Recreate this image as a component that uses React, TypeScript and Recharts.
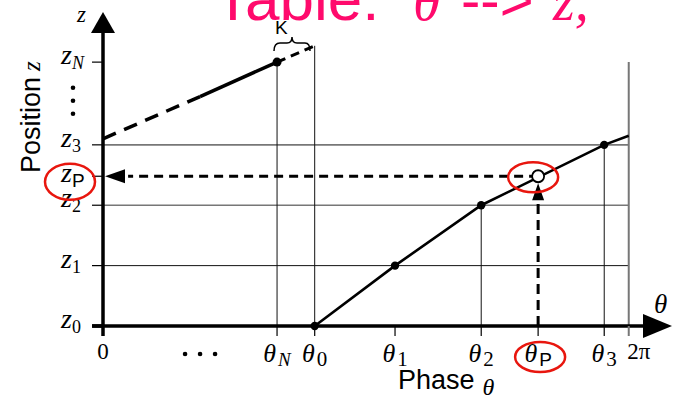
import React from 'react';
import { LineChart, Line, XAxis, YAxis, ReferenceLine, ReferenceDot } from 'recharts';

const SERIF = '"Liberation Serif", "Times New Roman", serif';
const SANS = '"Liberation Sans", Arial, sans-serif';
const MAGENTA = '#ff0a6c';
const RED = '#e8160e';

// phase values (radians) where the table has entries
const TWO_PI = 6.283;
const THETA_N = 2.08;
const THETA_0 = 2.53;
const THETA_1 = 3.49;
const THETA_2 = 4.52;
const THETA_P = 5.2;
const THETA_3 = 5.99;
const THETA_DOTS = 1.16;

// positions
const Z_P = 2.48;
const Z_N = 4.37;
const Z_DOTS = 3.73;

const X_MAX = 6.8;
const Y_MAX = 5.2;

// current period of the table: θ0..θ3 and on to 2π
const tableCurve = [
  { t: THETA_0, z: 0 },
  { t: THETA_1, z: 1 },
  { t: THETA_2, z: 2 },
  { t: THETA_3, z: 3 },
  { t: TWO_PI, z: 3.15 },
];
// previous period coming back in from phase 0
const wrapDashed = [
  { t: 0, z: 3.1 },
  { t: 1.16, z: 3.8 },
];
const wrapSolid = [
  { t: 1.16, z: 3.8 },
  { t: THETA_N, z: Z_N },
];
// the gap K between θN and θ0
const gapK = [
  { t: THETA_N, z: Z_N },
  { t: THETA_0, z: 4.64 },
];

const thetaTicks = [0, THETA_DOTS, THETA_N, THETA_0, THETA_1, THETA_2, THETA_P, THETA_3, TWO_PI];
const thetaLabelMain = ['0', '', 'θ', 'θ', 'θ', 'θ', 'θ', 'θ', '2π'];
const thetaLabelSub = ['', '', 'N', '0', '1', '2', 'P', '3', ''];

const zTicks = [0, 1, 2, Z_P, 3, Z_DOTS, Z_N];
const zLabelMain = ['z', 'z', 'z', 'z', 'z', '', 'z'];
const zLabelSub = ['0', '1', '2', 'P', '3', '', 'N'];

const subStyle = (sub: string, size: number) =>
  sub === 'P'
    ? { fontFamily: SANS, fontStyle: 'normal' as const, fontSize: size - 2 }
    : sub === 'N'
    ? { fontFamily: SERIF, fontStyle: 'italic' as const, fontSize: size - 2 }
    : { fontFamily: SERIF, fontStyle: 'normal' as const, fontSize: size };

function PhaseTick(props: any) {
  const { x, y, payload } = props;
  const i = thetaTicks.indexOf(payload.value);
  if (i < 0) return <g />;
  const main = thetaLabelMain[i];
  const sub = thetaLabelSub[i];
  if (i === 1) {
    return (
      <g>
        {[-15, 0, 15].map((d) => (
          <circle key={d} cx={x + d} cy={y + 28} r={2.3} fill="#000" />
        ))}
      </g>
    );
  }
  const plain = sub === '';
  return (
    <g>
      <line x1={x} x2={x} y1={y} y2={y + 10} stroke={i === 8 ? '#777' : '#000'} strokeWidth={i === 8 ? 2 : 1.2} />
      {sub === 'P' && (
        <ellipse cx={x + 2} cy={y + 31} rx={25} ry={15} fill="none" stroke={RED} strokeWidth={2.5} />
      )}
      <text
        x={i === 8 ? x + 10 : x}
        y={plain ? y + 33 : y + 36}
        textAnchor="middle"
        fontFamily={SERIF}
        fontStyle={plain ? 'normal' : 'italic'}
        fontSize={plain ? 23 : 26}
        fill="#000"
      >
        {main}
        {!plain && (
          <tspan dx={2} dy={4} {...subStyle(sub, 21)}>
            {sub}
          </tspan>
        )}
      </text>
    </g>
  );
}

function PositionTick(props: any) {
  const { x, y, payload } = props;
  const i = zTicks.indexOf(payload.value);
  if (i < 0) return <g />;
  if (i === 5) {
    return (
      <g>
        {[-13, 0, 13].map((d) => (
          <circle key={d} cx={x - 30} cy={y + d} r={2.3} fill="#000" />
        ))}
      </g>
    );
  }
  const sub = zLabelSub[i];
  const isP = sub === 'P';
  return (
    <g>
      <line x1={x - 11} x2={x} y1={y} y2={y} stroke="#000" strokeWidth={i === 0 ? 3.5 : 1.2} />
      {isP && <ellipse cx={x - 33} cy={y + 5.5} rx={25} ry={18} fill="none" stroke={RED} strokeWidth={2.5} />}
      <text x={x - 42} y={isP ? y + 6 : y + 2} fontFamily={SERIF} fontStyle="italic" fontSize={28} fill="#000">
        {zLabelMain[i]}
        <tspan dx={0} dy={5} {...subStyle(sub, 18)} fontSize={isP ? 19 : 18}>
          {sub}
        </tspan>
      </text>
    </g>
  );
}

const tableDot = (props: any) => {
  const { cx, cy, index } = props;
  if (index === tableCurve.length - 1) return <g key={`d${index}`} />;
  return <circle key={`d${index}`} cx={cx} cy={cy} r={4.2} fill="#000" />;
};

const endDot = (props: any) => {
  const { cx, cy, index } = props;
  if (index !== 1) return <g key={`e${index}`} />;
  return <circle key={`e${index}`} cx={cx} cy={cy} r={4.5} fill="#000" />;
};

export default function App() {
  return (
    <div style={{ position: 'absolute', left: 0, top: 0, width: 673, height: 397, background: '#fff' }}>
      <LineChart width={673} height={397} margin={{ top: 12, right: 1, bottom: 0, left: 0 }}>
        <XAxis
          type="number"
          dataKey="t"
          domain={[0, X_MAX]}
          ticks={thetaTicks}
          interval={0}
          height={71}
          axisLine={false}
          tickLine={false}
          tickSize={0}
          tickMargin={0}
          tick={<PhaseTick />}
        />
        <YAxis
          type="number"
          dataKey="z"
          domain={[0, Y_MAX]}
          ticks={zTicks}
          interval={0}
          width={103}
          axisLine={false}
          tickLine={false}
          tickSize={0}
          tickMargin={0}
          tick={<PositionTick />}
        />

        {/* table grid */}
        {[1, 2, 3].map((z) => (
          <ReferenceLine
            key={`h${z}`}
            segment={[{ x: 0, y: z }, { x: TWO_PI, y: z }]}
            stroke={z === 1 ? '#111' : '#777'}
            strokeWidth={z === 1 ? 1 : 1.6}
            ifOverflow="visible"
          />
        ))}
        <ReferenceLine segment={[{ x: THETA_N, y: 0 }, { x: THETA_N, y: Z_N }]} stroke="#111" strokeWidth={1} />
        <ReferenceLine segment={[{ x: THETA_0, y: 0 }, { x: THETA_0, y: 4.64 }]} stroke="#111" strokeWidth={1} />
        <ReferenceLine segment={[{ x: THETA_2, y: 0 }, { x: THETA_2, y: 2 }]} stroke="#111" strokeWidth={1} />
        <ReferenceLine segment={[{ x: THETA_3, y: 0 }, { x: THETA_3, y: 3 }]} stroke="#111" strokeWidth={1} />
        <ReferenceLine segment={[{ x: TWO_PI, y: 0 }, { x: TWO_PI, y: Z_N }]} stroke="#777" strokeWidth={2} />

        {/* axes */}
        <ReferenceLine segment={[{ x: -0.13, y: 0 }, { x: X_MAX - 0.3, y: 0 }]} stroke="#000" strokeWidth={3.5} ifOverflow="visible" />
        <ReferenceLine segment={[{ x: 0, y: -0.165 }, { x: 0, y: Y_MAX - 0.3 }]} stroke="#000" strokeWidth={3.5} ifOverflow="visible" />

        {/* lookup θP -> zP */}
        <ReferenceLine segment={[{ x: THETA_P, y: 0 }, { x: THETA_P, y: Z_P - 0.3 }]} stroke="#000" strokeWidth={3} strokeDasharray="10 6" />
        <ReferenceLine segment={[{ x: THETA_P, y: Z_P }, { x: 0.3, y: Z_P }]} stroke="#000" strokeWidth={3} strokeDasharray="9 6" />

        <Line data={wrapDashed} dataKey="z" stroke="#000" strokeWidth={3.5} strokeDasharray="14 9" dot={false} isAnimationActive={false} />
        <Line data={wrapSolid} dataKey="z" stroke="#000" strokeWidth={3.5} dot={endDot} isAnimationActive={false} />
        <Line data={gapK} dataKey="z" stroke="#000" strokeWidth={3} strokeDasharray="9 6" dot={false} isAnimationActive={false} />

        <ReferenceDot
          x={THETA_P}
          y={Z_P}
          r={6}
          shape={(p: any) => <circle cx={p.cx} cy={p.cy} r={6} fill="#fff" stroke="#000" strokeWidth={1.8} />}
        />
        <Line data={tableCurve} dataKey="z" stroke="#000" strokeWidth={2.6} dot={tableDot} isAnimationActive={false} />

        {/* arrow heads */}
        <ReferenceDot
          x={THETA_P}
          y={Z_P}
          shape={(p: any) => (
            <polygon points={`${p.cx},${p.cy + 7} ${p.cx - 6},${p.cy + 24} ${p.cx + 6},${p.cy + 24}`} fill="#000" />
          )}
        />
        <ReferenceDot
          x={0}
          y={Z_P}
          shape={(p: any) => (
            <polygon points={`${p.cx + 2},${p.cy} ${p.cx + 22},${p.cy - 7} ${p.cx + 22},${p.cy + 7}`} fill="#000" />
          )}
        />
        <ReferenceDot
          x={X_MAX}
          y={0}
          shape={(p: any) => (
            <polygon points={`${p.cx},${p.cy} ${p.cx - 29},${p.cy - 12} ${p.cx - 29},${p.cy + 12}`} fill="#000" />
          )}
        />
        <ReferenceDot
          x={0}
          y={Y_MAX}
          shape={(p: any) => (
            <polygon points={`${p.cx},${p.cy} ${p.cx - 12},${p.cy + 21} ${p.cx + 12},${p.cy + 21}`} fill="#000" />
          )}
        />
        <ReferenceDot
          x={THETA_P}
          y={Z_P}
          shape={(p: any) => (
            <ellipse cx={p.cx - 5} cy={p.cy + 1} rx={25} ry={15} fill="none" stroke={RED} strokeWidth={2.5} />
          )}
        />
      </LineChart>

      {/* titles and annotations */}
      <svg width={673} height={397} style={{ position: 'absolute', left: 0, top: 0, pointerEvents: 'none' }}>
        <text x={214} y={20} fontFamily={SANS} fontSize={62} fill={MAGENTA}>
          Table:
        </text>
        <text x={413} y={20} fontFamily={SERIF} fontStyle="italic" fontSize={56} fill={MAGENTA}>
          θ
        </text>
        <text x={461} y={20} fontFamily={SANS} fontSize={58} fill={MAGENTA}>
          {'-->'}
        </text>
        <text x={553} y={20} fontFamily={SERIF} fontStyle="italic" fontSize={56} fill={MAGENTA}>
          z,
        </text>

        <text x={275} y={34} fontFamily={SANS} fontSize={19} fill="#000">
          K
        </text>
        <path
          d="M274,51 Q274,43 280,43 L287,43 Q292,43 292,37 Q292,43 297,43 L305,43 Q310,43 310,51"
          fill="none"
          stroke="#000"
          strokeWidth={1.5}
        />

        <text x={77} y={22} fontFamily={SERIF} fontStyle="italic" fontSize={23} fill="#000">
          z
        </text>
        <text x={654} y={313} fontFamily={SERIF} fontStyle="italic" fontSize={27} fill="#000">
          θ
        </text>

        <text transform="translate(40,173) rotate(-90)" fontFamily={SANS} fontSize={27} fill="#000">
          Position
          <tspan dx={6} fontFamily={SERIF} fontStyle="italic" fontSize={25}>
            z
          </tspan>
        </text>
        <text x={398} y={389} fontFamily={SANS} fontSize={27} fill="#000">
          Phase
          <tspan dx={8} dy={6} fontFamily={SERIF} fontStyle="italic" fontSize={24}>
            θ
          </tspan>
        </text>
      </svg>
    </div>
  );
}
